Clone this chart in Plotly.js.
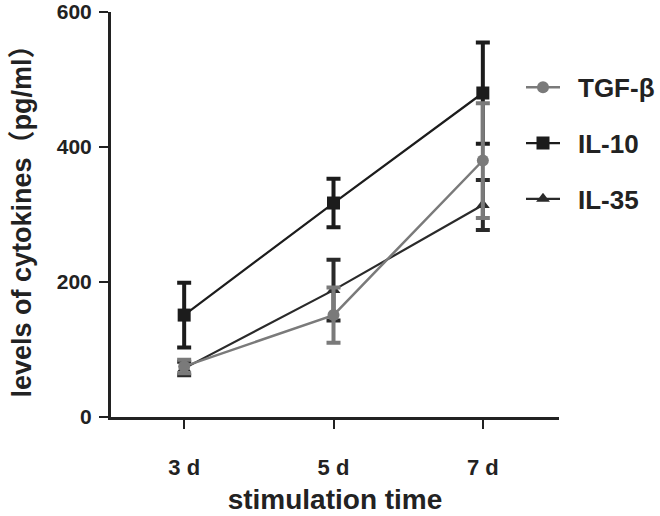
<!DOCTYPE html>
<html><head><meta charset="utf-8">
<script src="https://cdn.plot.ly/plotly-3.0.1.min.js"></script>
<style>html,body{margin:0;padding:0;background:#fff}#chart{width:660px;height:516px}</style>
</head><body><div id="chart"></div>
<script>
const categories = ["3 d", "5 d", "7 d"];
const seriesNames = ["TGF-β", "IL-10", "IL-35"];
const tgfValues = [75, 151, 380];
const tgfErrors = [10, 41, 85];
const il10Values = [151, 317, 480];
const il10Errors = [48, 36, 75];
const il35Values = [72, 188, 314];
const il35Errors = [10, 45, 37];
const yTicks = [0, 200, 400, 600];

const xPos = categories.map((c, i) => i);
function trace(name, y, err, color, symbol, size, lw, rank) {
  return {
    type: 'scatter', mode: 'lines+markers', name: '\u2002' + name, x: xPos, y: y,
    legendgroup: name, legendrank: rank,
    line: {color: color, width: lw},
    marker: {color: color, symbol: symbol, size: size},
    error_y: {type: 'data', array: err, visible: true, color: color, thickness: 4, width: 7}
  };
}
const data = [
  trace(seriesNames[1], il10Values, il10Errors, '#1c1c1c', 'square', 13, 2.2, 2),
  trace(seriesNames[2], il35Values, il35Errors, '#2a2a2a', 'triangle-up', 12, 2.2, 3),
  trace(seriesNames[0], tgfValues, tgfErrors, '#7a7a7a', 'circle', 12, 2.5, 1)
];

const FONT = 'Liberation Sans, Arial, sans-serif';
const CJK = 'Noto Sans CJK SC';
const yTitle = 'levels of cytokines<span style="font-family:' + CJK + '">（</span>pg/ml<span style="font-family:' + CJK + '">）</span>';
const layout = {
  width: 660, height: 516,
  margin: {l: 111, r: 0, t: 12, b: 99},
  paper_bgcolor: '#fff', plot_bgcolor: '#fff',
  font: {family: FONT, color: '#222'},
  showlegend: true,
  legend: {
    x: 1, xanchor: 'right', y: 0.872, yanchor: 'top',
    font: {size: 26, color: '#222', family: FONT, weight: 'bold'},
    tracegroupgap: 19, traceorder: 'grouped', itemwidth: 34
  },
  xaxis: {
    domain: [0, 448 / 549],
    range: [-0.49, 2.51], tickvals: xPos, ticktext: categories,
    showline: true, linewidth: 3, linecolor: '#222',
    ticks: 'outside', ticklen: 9, tickwidth: 2, tickcolor: '#222',
    showgrid: false, zeroline: false, automargin: false,
    tickfont: {size: 22, weight: 'bold', color: '#222'},
    ticklabelstandoff: 20,
    title: {text: 'stimulation time', font: {size: 28, weight: 'bold', color: '#222'}, standoff: 10}
  },
  yaxis: {
    range: [0, 600], tickvals: yTicks,
    showline: true, linewidth: 3, linecolor: '#222',
    ticks: 'outside', ticklen: 9, tickwidth: 2, tickcolor: '#222',
    showgrid: false, zeroline: false, automargin: false,
    tickfont: {size: 21, weight: 'bold', color: '#222'},
    ticklabelstandoff: 3,
    title: {text: yTitle, font: {size: 27, weight: 'bold', color: '#222'}, standoff: 22}
  }
};
Plotly.newPlot('chart', data, layout, {displayModeBar: false, staticPlot: true});
</script></body></html>
